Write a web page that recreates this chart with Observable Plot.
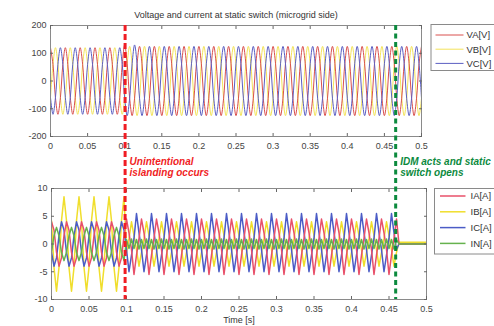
<!DOCTYPE html>
<html><head><meta charset="utf-8">
<script src="https://cdn.jsdelivr.net/npm/d3@7"></script>
<script src="https://cdn.jsdelivr.net/npm/@observablehq/plot@0.6"></script>
<style>
html,body{margin:0;padding:0;background:#fff;}
#fig{position:relative;width:494px;height:326px;overflow:hidden;background:#fff;font-family:"Liberation Sans",Arial,sans-serif;}
#fig > svg{position:absolute;left:0;}
</style></head><body><div id="fig"></div>
<script>
// ---------- DATA ----------
const title = "Voltage and current at static switch (microgrid side)";
const xLabel = "Time [s]";
const xTicks = [0, 0.05, 0.1, 0.15, 0.2, 0.25, 0.3, 0.35, 0.4, 0.45, 0.5];
const xTickLabels = ["0", "0.05", "0.1", "0.15", "0.2", "0.25", "0.3", "0.35", "0.4", "0.45", "0.5"];
const vTicks = [-200, -100, 0, 100, 200];
const iTicks = [-10, -5, 0, 5, 10];
const islandingTime = 0.1;
const switchOpenTime = 0.4627;
const islandingNote = ["Unintentional", "islanding occurs"];
const switchNote = ["IDM acts and static", "switch opens"];

// sample times, ms
const tMs = [
0,3.33,6.67,10,13.33,16.67,
20,23.33,26.67,30,33.33,36.67,
40,43.33,46.67,50,53.33,56.67,
60,63.33,66.67,70,73.33,76.67,
80,83.33,86.67,90,93.33,96.67,
100,103.33,106.67,110,113.33,116.67,
120,123.33,126.67,130,133.33,136.67,
140,143.33,146.67,150,153.33,156.67,
160,163.33,166.67,170,173.33,176.67,
180,183.33,186.67,190,193.33,196.67,
200,203.33,206.67,210,213.33,216.67,
220,223.33,226.67,230,233.33,236.67,
240,243.33,246.67,250,253.33,256.67,
260,263.33,266.67,270,273.33,276.67,
280,283.33,286.67,290,293.33,296.67,
300,303.33,306.67,310,313.33,316.67,
320,323.33,326.67,330,333.33,336.67,
340,343.33,346.67,350,353.33,356.67,
360,363.33,366.67,370,373.33,376.67,
380,383.33,386.67,390,393.33,396.67,
400,403.33,406.67,410,413.33,416.67,
420,423.33,426.67,430,433.33,436.67,
440,443.33,446.67,450,453.33,456.67,
460,463.33,466.67,470,473.33,476.67,
480,483.33,486.67,490,493.33,496.67,
500];

const VA = [
120,60,-60,-120,-60,60,
120,60,-60,-120,-60,60,
120,60,-60,-120,-60,60,
120,60,-60,-120,-60,60,
120,60,-60,-120,-60,60,
130,62,-62,-125,-62,62,
125,62,-62,-125,-62,62,
125,62,-62,-125,-62,62,
125,62,-62,-125,-62,62,
125,62,-62,-125,-62,62,
125,62,-62,-125,-62,62,
125,62,-62,-125,-62,62,
125,62,-62,-125,-62,62,
125,62,-62,-125,-62,62,
125,62,-62,-125,-62,62,
125,62,-62,-125,-62,62,
125,62,-62,-125,-62,62,
125,62,-62,-125,-62,62,
125,62,-62,-125,-62,62,
125,62,-62,-125,-62,62,
125,62,-62,-125,-62,62,
125,62,-62,-125,-62,62,
125,62,-62,-125,-62,62,
125,62,-62,-125,-62,62,
125,62,-62,-125,-62,62,
125];
const VB = [
-60,60,120,60,-60,-120,
-60,60,120,60,-60,-120,
-60,60,120,60,-60,-120,
-60,60,120,60,-60,-120,
-60,60,120,60,-60,-120,
-62,62,125,62,-62,-125,
-62,62,125,62,-62,-125,
-62,62,125,62,-62,-125,
-62,62,125,62,-62,-125,
-62,62,125,62,-62,-125,
-62,62,125,62,-62,-125,
-62,62,125,62,-62,-125,
-62,62,125,62,-62,-125,
-62,62,125,62,-62,-125,
-62,62,125,62,-62,-125,
-62,62,125,62,-62,-125,
-62,62,125,62,-62,-125,
-62,62,125,62,-62,-125,
-62,62,125,62,-62,-125,
-62,62,125,62,-62,-125,
-62,62,125,62,-62,-125,
-62,62,125,62,-62,-125,
-62,62,125,62,-62,-125,
-62,62,125,62,-62,-125,
-62,62,125,62,-62,-125,
-62];
const VC = [
-60,-120,-60,60,120,60,
-60,-120,-60,60,120,60,
-60,-120,-60,60,120,60,
-60,-120,-60,60,120,60,
-60,-120,-60,60,120,60,
-62,-125,-62,62,130,62,
-62,-125,-62,62,125,62,
-62,-125,-62,62,125,62,
-62,-125,-62,62,125,62,
-62,-125,-62,62,125,62,
-62,-125,-62,62,125,62,
-62,-125,-62,62,125,62,
-62,-125,-62,62,125,62,
-62,-125,-62,62,125,62,
-62,-125,-62,62,125,62,
-62,-125,-62,62,125,62,
-62,-125,-62,62,125,62,
-62,-125,-62,62,125,62,
-62,-125,-62,62,125,62,
-62,-125,-62,62,125,62,
-62,-125,-62,62,125,62,
-62,-125,-62,62,125,62,
-62,-125,-62,62,125,62,
-62,-125,-62,62,125,62,
-62,-125,-62,62,125,62,
-62];

// currents: cycles 0-4 before islanding, 5-22 islanded, switch opens in cycle 23
const IA = [
4,2.5,-1.5,-4,-2.5,1.5,
4,2.5,-1.5,-4,-2.5,1.5,
4,2.5,-1.5,-4,-2.5,1.5,
4,2.5,-1.5,-4,-2.5,1.5,
4,2.5,-1.5,-4,-2.5,1.5,
4.5,2,-1,-5.5,-2,1,
4.5,2,-1,-5.5,-2,1,
4.5,2,-1,-5.5,-2,1,
4.5,2,-1,-5.5,-2,1,
4.5,2,-1,-5.5,-2,1,
4.5,2,-1,-5.5,-2,1,
4.5,2,-1,-5.5,-2,1,
4.5,2,-1,-5.5,-2,1,
4.5,2,-1,-5.5,-2,1,
4.5,2,-1,-5.5,-2,1,
4.5,2,-1,-5.5,-2,1,
4.5,2,-1,-5.5,-2,1,
4.5,2,-1,-5.5,-2,1,
4.5,2,-1,-5.5,-2,1,
4.5,2,-1,-5.5,-2,1,
4.5,2,-1,-5.5,-2,1,
4.5,2,-1,-5.5,-2,1,
4.5,2,-1,-5.5,-2,1,
4.5,0,0,0,0,0,
0,0,0,0,0,0,
0];
const IB = [
4.2,-4.2,-8.5,-4.2,4.2,8.5,
4.2,-4.2,-8.5,-4.2,4.2,8.5,
4.2,-4.2,-8.5,-4.2,4.2,8.5,
4.2,-4.2,-8.5,-4.2,4.2,8.5,
4.2,-4.2,-8.5,-4.2,4.2,8.5,
-1.5,1,4,1.5,-1,-4,
-1.5,1,4,1.5,-1,-4,
-1.5,1,4,1.5,-1,-4,
-1.5,1,4,1.5,-1,-4,
-1.5,1,4,1.5,-1,-4,
-1.5,1,4,1.5,-1,-4,
-1.5,1,4,1.5,-1,-4,
-1.5,1,4,1.5,-1,-4,
-1.5,1,4,1.5,-1,-4,
-1.5,1,4,1.5,-1,-4,
-1.5,1,4,1.5,-1,-4,
-1.5,1,4,1.5,-1,-4,
-1.5,1,4,1.5,-1,-4,
-1.5,1,4,1.5,-1,-4,
-1.5,1,4,1.5,-1,-4,
-1.5,1,4,1.5,-1,-4,
-1.5,1,4,1.5,-1,-4,
-1.5,1,4,1.5,-1,-4,
-1.5,0.3,0.3,0.3,0.3,0.3,
0.3,0.3,0.3,0.3,0.3,0.3,
0.3];
const IC = [
-1.5,-4,-2.5,1.5,4,2.5,
-1.5,-4,-2.5,1.5,4,2.5,
-1.5,-4,-2.5,1.5,4,2.5,
-1.5,-4,-2.5,1.5,4,2.5,
-1.5,-4,-2.5,1.5,4,2.5,
-1,-5,-2,1,5.5,2,
-1,-5,-2,1,5.5,2,
-1,-5,-2,1,5.5,2,
-1,-5,-2,1,5.5,2,
-1,-5,-2,1,5.5,2,
-1,-5,-2,1,5.5,2,
-1,-5,-2,1,5.5,2,
-1,-5,-2,1,5.5,2,
-1,-5,-2,1,5.5,2,
-1,-5,-2,1,5.5,2,
-1,-5,-2,1,5.5,2,
-1,-5,-2,1,5.5,2,
-1,-5,-2,1,5.5,2,
-1,-5,-2,1,5.5,2,
-1,-5,-2,1,5.5,2,
-1,-5,-2,1,5.5,2,
-1,-5,-2,1,5.5,2,
-1,-5,-2,1,5.5,2,
-1,0,0,0,0,0,
0,0,0,0,0,0,
0];
const IN = [
-1.5,1.5,3,1.5,-1.5,-3,
-1.5,1.5,3,1.5,-1.5,-3,
-1.5,1.5,3,1.5,-1.5,-3,
-1.5,1.5,3,1.5,-1.5,-3,
-1.5,1.5,3,1.5,-1.5,-3,
0.8,-0.8,0.9,-0.8,0.8,-0.9,
0.8,-0.8,0.9,-0.8,0.8,-0.9,
0.8,-0.8,0.9,-0.8,0.8,-0.9,
0.8,-0.8,0.9,-0.8,0.8,-0.9,
0.8,-0.8,0.9,-0.8,0.8,-0.9,
0.8,-0.8,0.9,-0.8,0.8,-0.9,
0.8,-0.8,0.9,-0.8,0.8,-0.9,
0.8,-0.8,0.9,-0.8,0.8,-0.9,
0.8,-0.8,0.9,-0.8,0.8,-0.9,
0.8,-0.8,0.9,-0.8,0.8,-0.9,
0.8,-0.8,0.9,-0.8,0.8,-0.9,
0.8,-0.8,0.9,-0.8,0.8,-0.9,
0.8,-0.8,0.9,-0.8,0.8,-0.9,
0.8,-0.8,0.9,-0.8,0.8,-0.9,
0.8,-0.8,0.9,-0.8,0.8,-0.9,
0.8,-0.8,0.9,-0.8,0.8,-0.9,
0.8,-0.8,0.9,-0.8,0.8,-0.9,
0.8,-0.8,0.9,-0.8,0.8,-0.9,
0.8,0,0,0,0,0,
0,0,0,0,0,0,
0];

const voltNames = ["VA[V]", "VB[V]", "VC[V]"];
const voltColors = ["#d9504e", "#f3e35a", "#5b5fc2"];
const voltValues = [VA, VB, VC];
const currNames = ["IA[A]", "IB[A]", "IC[A]", "IN[A]"];
const currColors = ["#e8506a", "#f0de2c", "#4b5cc6", "#66b24e"];
const currValues = [IA, IB, IC, IN];

// ---------- DRAWING ----------
const FONT = '"Liberation Sans", Arial, Helvetica, sans-serif';
const fig = document.getElementById("fig");
const pts = (vals) => vals.map((v, i) => ({t: tMs[i] / 1000, v}));
const fmtX = (d) => xTickLabels[xTicks.indexOf(d)] ?? String(d);

function frameAxes(yTicks) {
  return [
    Plot.frame({stroke: "#8a8a8a"}),
    Plot.axisX(xTicks, {anchor: "bottom", tickSize: -3, tickPadding: 9.5, tickFormat: fmtX, stroke: "#666", fill: "#444", label: null}),
    Plot.axisX(xTicks, {anchor: "top", tickSize: -3, tickFormat: () => "", stroke: "#666", label: null}),
    Plot.axisY(yTicks, {anchor: "left", tickSize: -3, tickPadding: 7, tickFormat: (d) => String(d), stroke: "#666", fill: "#444", label: null}),
    Plot.axisY(yTicks, {anchor: "right", tickSize: -3, tickFormat: () => "", stroke: "#666", label: null})
  ];
}

const plotStyle = {fontFamily: FONT, fontSize: "9px", color: "#444", background: "transparent", overflow: "visible"};

// voltage plot: draw VB first (it sits behind)
const voltOrder = [1, 0, 2];
const topPlot = Plot.plot({
  width: 494, height: 160,
  marginLeft: 50, marginRight: 73, marginTop: 25, marginBottom: 24,
  style: plotStyle,
  x: {domain: [0, 0.5], label: null},
  y: {domain: [-200, 200], label: null},
  marks: [
    ...voltOrder.map((k) => Plot.line(pts(voltValues[k]), {x: "t", y: "v", stroke: voltColors[k], strokeWidth: 1, curve: "catmull-rom", clip: true})),
    ...frameAxes(vTicks),
    Plot.text([title], {frameAnchor: "top", dy: -14, fontSize: 9, fill: "#333"})
  ]
});
topPlot.style.top = "0px";
fig.appendChild(topPlot);

const currOrder = [1, 2, 0, 3];
const botPlot = Plot.plot({
  width: 494, height: 166,
  marginLeft: 51, marginRight: 68, marginTop: 28, marginBottom: 27,
  style: plotStyle,
  x: {domain: [0, 0.5], label: null},
  y: {domain: [-10, 10], label: null},
  marks: [
    ...currOrder.map((k) => Plot.line(pts(currValues[k]), {x: "t", y: "v", stroke: currColors[k], strokeWidth: 1.5, curve: "linear", clip: true})),
    ...frameAxes(iTicks),
    Plot.text([xLabel], {frameAnchor: "bottom", dy: 23, fontSize: 9, fill: "#333"})
  ]
});
botPlot.style.top = "160px";
fig.appendChild(botPlot);

// overlay: event lines, notes, legends
const botTop = 160;
const ov = d3.select(fig).append("svg")
  .attr("width", 494).attr("height", 326)
  .style("position", "absolute").style("left", 0).style("top", 0)
  .style("font-family", FONT);

const xTop = topPlot.scale("x"), yTop = topPlot.scale("y"), yBot = botPlot.scale("y"), xBot = botPlot.scale("x");
const lineTopY = yTop.apply(200);
const lineBotY = botTop + yBot.apply(-10);
const events = [
  {t: islandingTime, color: "#f01d24", dash: "6,3", note: islandingNote},
  {t: switchOpenTime, color: "#0c8a3e", dash: "5,3.5", note: switchNote}
];
events.forEach((e) => {
  const xx = (xTop.apply(e.t) + xBot.apply(e.t)) / 2;
  ov.append("line").attr("x1", xx).attr("x2", xx).attr("y1", lineTopY).attr("y2", lineBotY)
    .attr("stroke", e.color).attr("stroke-width", 3).attr("stroke-dasharray", e.dash);
  const tx = ov.append("text").attr("x", xx + 4.5).attr("y", 164.5)
    .attr("fill", e.color).attr("font-size", "10px").attr("font-weight", "bold").attr("font-style", "italic");
  e.note.forEach((s, i) => tx.append("tspan").attr("x", xx + 4.5).attr("dy", i ? 11.8 : 0).text(s));
});

function legend(x0, y0, h, rows0, dy, names, colors, lineX0, lineX1, textX, sw) {
  ov.append("rect").attr("x", x0).attr("y", y0).attr("width", 80).attr("height", h)
    .attr("fill", "#fff").attr("stroke", "#8a8a8a").attr("stroke-width", 1);
  names.forEach((n, i) => {
    const yy = rows0 + i * dy;
    ov.append("line").attr("x1", lineX0).attr("x2", lineX1).attr("y1", yy).attr("y2", yy)
      .attr("stroke", colors[i]).attr("stroke-width", sw);
    ov.append("text").attr("x", textX).attr("y", yy + 3.3).attr("font-size", "9.5px").attr("fill", "#333").text(n);
  });
}
legend(431, 24.5, 46, 35, 14.2, voltNames, voltColors, 435.5, 463.5, 466.5, 1);
legend(434.5, 188.5, 65.5, 196, 15.8, currNames, currColors, 440, 465.5, 470.5, 1.5);
</script></body></html>
